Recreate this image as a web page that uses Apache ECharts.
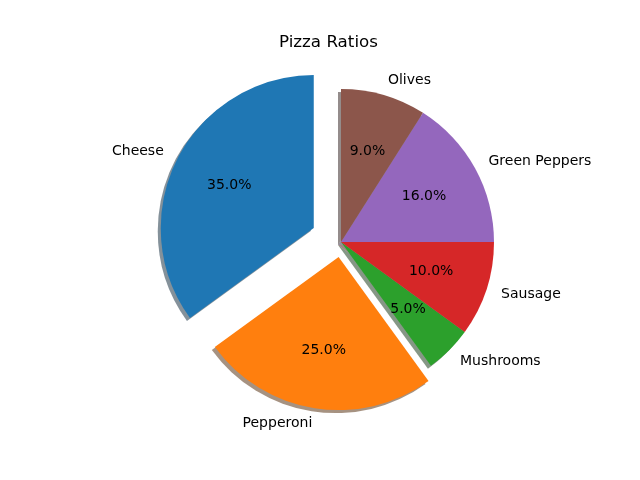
<!DOCTYPE html>
<html lang="en">
<head>
    <meta charset="UTF-8">
    <title>Pizza Ratios</title>
    <script src="https://cdn.jsdelivr.net/npm/echarts@6/dist/echarts.min.js"></script>
</head>
<body style="margin:0;background:#fff;">
<div id="main" style="width: 640px;height:480px;"></div>

<script>
    // data
    var labels = ['Cheese', 'Pepperoni', 'Mushrooms', 'Sausage', 'Green Peppers', 'Olives'];
    var sizes = [35, 25, 5, 10, 16, 9];
    var explode = [0.2, 0.1, 0, 0, 0, 0];
    var colors = ['#1f77b4', '#ff7f0e', '#2ca02c', '#d62728', '#9467bd', '#8c564b'];

    var R = 153, CX = 341, CY = 242, SH = 3;   // pie center / radius, shadow offset
    var font = 'DejaVu Sans';
    var total = sizes.reduce(function (a, b) { return a + b; }, 0);

    // shadow = 0.3 * facecolor, alpha 0.5 (like matplotlib)
    function shadowColor(hex) {
        var n = parseInt(hex.slice(1), 16);
        var r = Math.round(((n >> 16) & 255) * 0.3);
        var g = Math.round(((n >> 8) & 255) * 0.3);
        var b = Math.round((n & 255) * 0.3);
        return 'rgba(' + r + ',' + g + ',' + b + ',0.5)';
    }

    // one pie per explode value, each in 3 layers: shadow, wedge (+name), percent label
    function makeSeries(ex, kind) {
        var data = labels.map(function (name, i) {
            var on = explode[i] === ex;
            var item = {name: name, value: sizes[i], selected: on && ex > 0};
            var c = 'rgba(0,0,0,0)';
            if (on && kind === 'shadow') c = shadowColor(colors[i]);
            if (on && kind === 'wedge') c = colors[i];
            item.itemStyle = {color: c};
            if (!on || kind === 'shadow') item.label = {show: false};
            return item;
        });
        var s = {
            type: 'pie',
            silent: true,
            clockwise: false,
            startAngle: 90,
            avoidLabelOverlap: false,
            selectedMode: 'multiple',
            selectedOffset: ex * R,
            center: kind === 'shadow' ? [CX - SH, CY + SH] : [CX, CY],
            radius: kind === 'pct' ? [0, R * 1.2] : [0, R],
            z: kind === 'shadow' ? 1 : (kind === 'wedge' ? 2 : 3),
            emphasis: {disabled: true},
            select: {itemStyle: {borderWidth: 0}},
            itemStyle: {borderWidth: 0},
            labelLine: {show: false, length: R * 0.1, length2: 0},
            data: data
        };
        if (kind === 'pct') {
            s.label = {
                position: 'inside', color: '#000', fontFamily: font, fontSize: 14,
                formatter: function (p) { return (p.value / total * 100).toFixed(1) + '%'; }
            };
        } else {
            s.label = {
                position: 'outside', color: '#000', fontFamily: font, fontSize: 14,
                distanceToLabelLine: 0, formatter: '{b}'
            };
        }
        return s;
    }

    var groups = [];
    explode.forEach(function (e) { if (groups.indexOf(e) < 0) groups.push(e); });
    var series = [];
    ['shadow', 'wedge', 'pct'].forEach(function (k) {
        groups.forEach(function (e) { series.push(makeSeries(e, k)); });
    });

    var myChart = echarts.init(document.getElementById('main'));
    myChart.setOption({
        animation: false,
        backgroundColor: '#fff',
        title: {
            text: 'Pizza Ratios',
            left: 274, top: 29,
            textStyle: {fontFamily: font, fontSize: 16.7, fontWeight: 'normal', color: '#000'}
        },
        series: series
    });
</script>
</body>
</html>
